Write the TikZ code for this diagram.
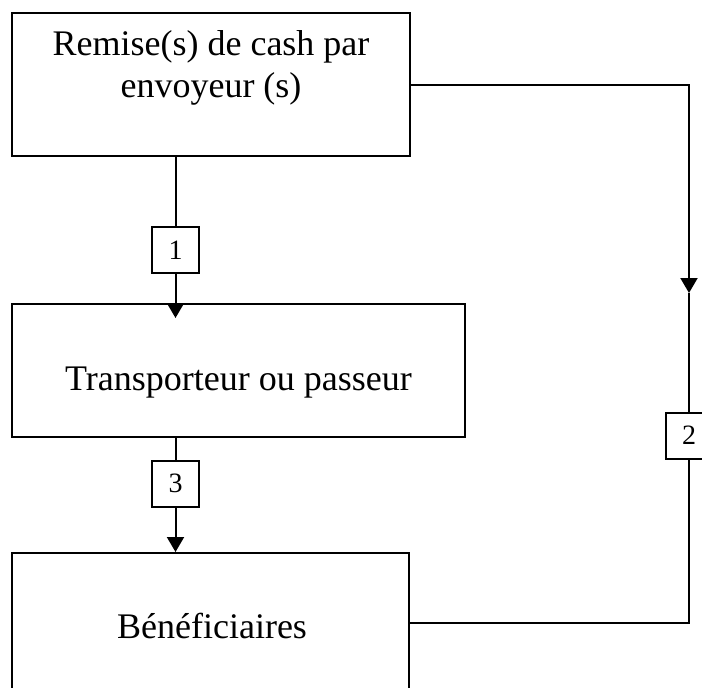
\documentclass[tikz,border=0pt]{standalone}
\usepackage{fontspec}
\setmainfont{Liberation Serif}
\usetikzlibrary{arrows.meta}

\begin{document}
\begin{tikzpicture}[x=1pt, y=-1pt, line width=2pt,
    box/.style={rectangle, draw, inner sep=0pt},
    num/.style={rectangle, draw, fill=white, inner sep=0pt, minimum width=47pt, minimum height=46pt, font=\fontsize{28}{28}\selectfont},
    txt/.style={align=center, inner sep=0pt, font=\fontsize{36}{42}\selectfont},
    fl/.style={-{Triangle[length=15pt, width=17pt]}}]

        \useasboundingbox (0,0) rectangle (702,688);

        \node[box, minimum width=398pt, minimum height=143pt] (A) at (211,84.5) {};
        \node[box, minimum width=453pt, minimum height=133pt] (B) at (238.5,370.5) {};
        \node[box, minimum width=397pt, minimum height=140pt] (C) at (210.5,623) {};
        \node[txt, anchor=base] (Atxt) at (211,97) {Remise(s) de cash par\\envoyeur (s)};
        \node[txt, anchor=base] (Btxt) at (238.5,390) {Transporteur ou passeur};
        \node[txt, anchor=base] (Ctxt) at (212,638) {Bénéficiaires};

        \node[num] (n1) at (175.5,250) {1};
        \node[num] (n3) at (175.5,483.5) {3};
        \node[num] (n2) at (689,435.5) {2};
        \coordinate (tip) at (689,293);

        \draw (n1 |- A.south) -- (n1.north);
        \draw[fl, shorten >=-15pt] (n1.south) -- (n1 |- B.north);
        \draw (n3 |- B.south) -- (n3.north);
        \draw[fl] (n3.south) -- (n3 |- C.north);
        \draw[fl] (A.east) -| (tip);
        \draw (tip) -- (n2.north);
        \draw (n2.south) |- (C.east);

\end{tikzpicture}
\end{document}
